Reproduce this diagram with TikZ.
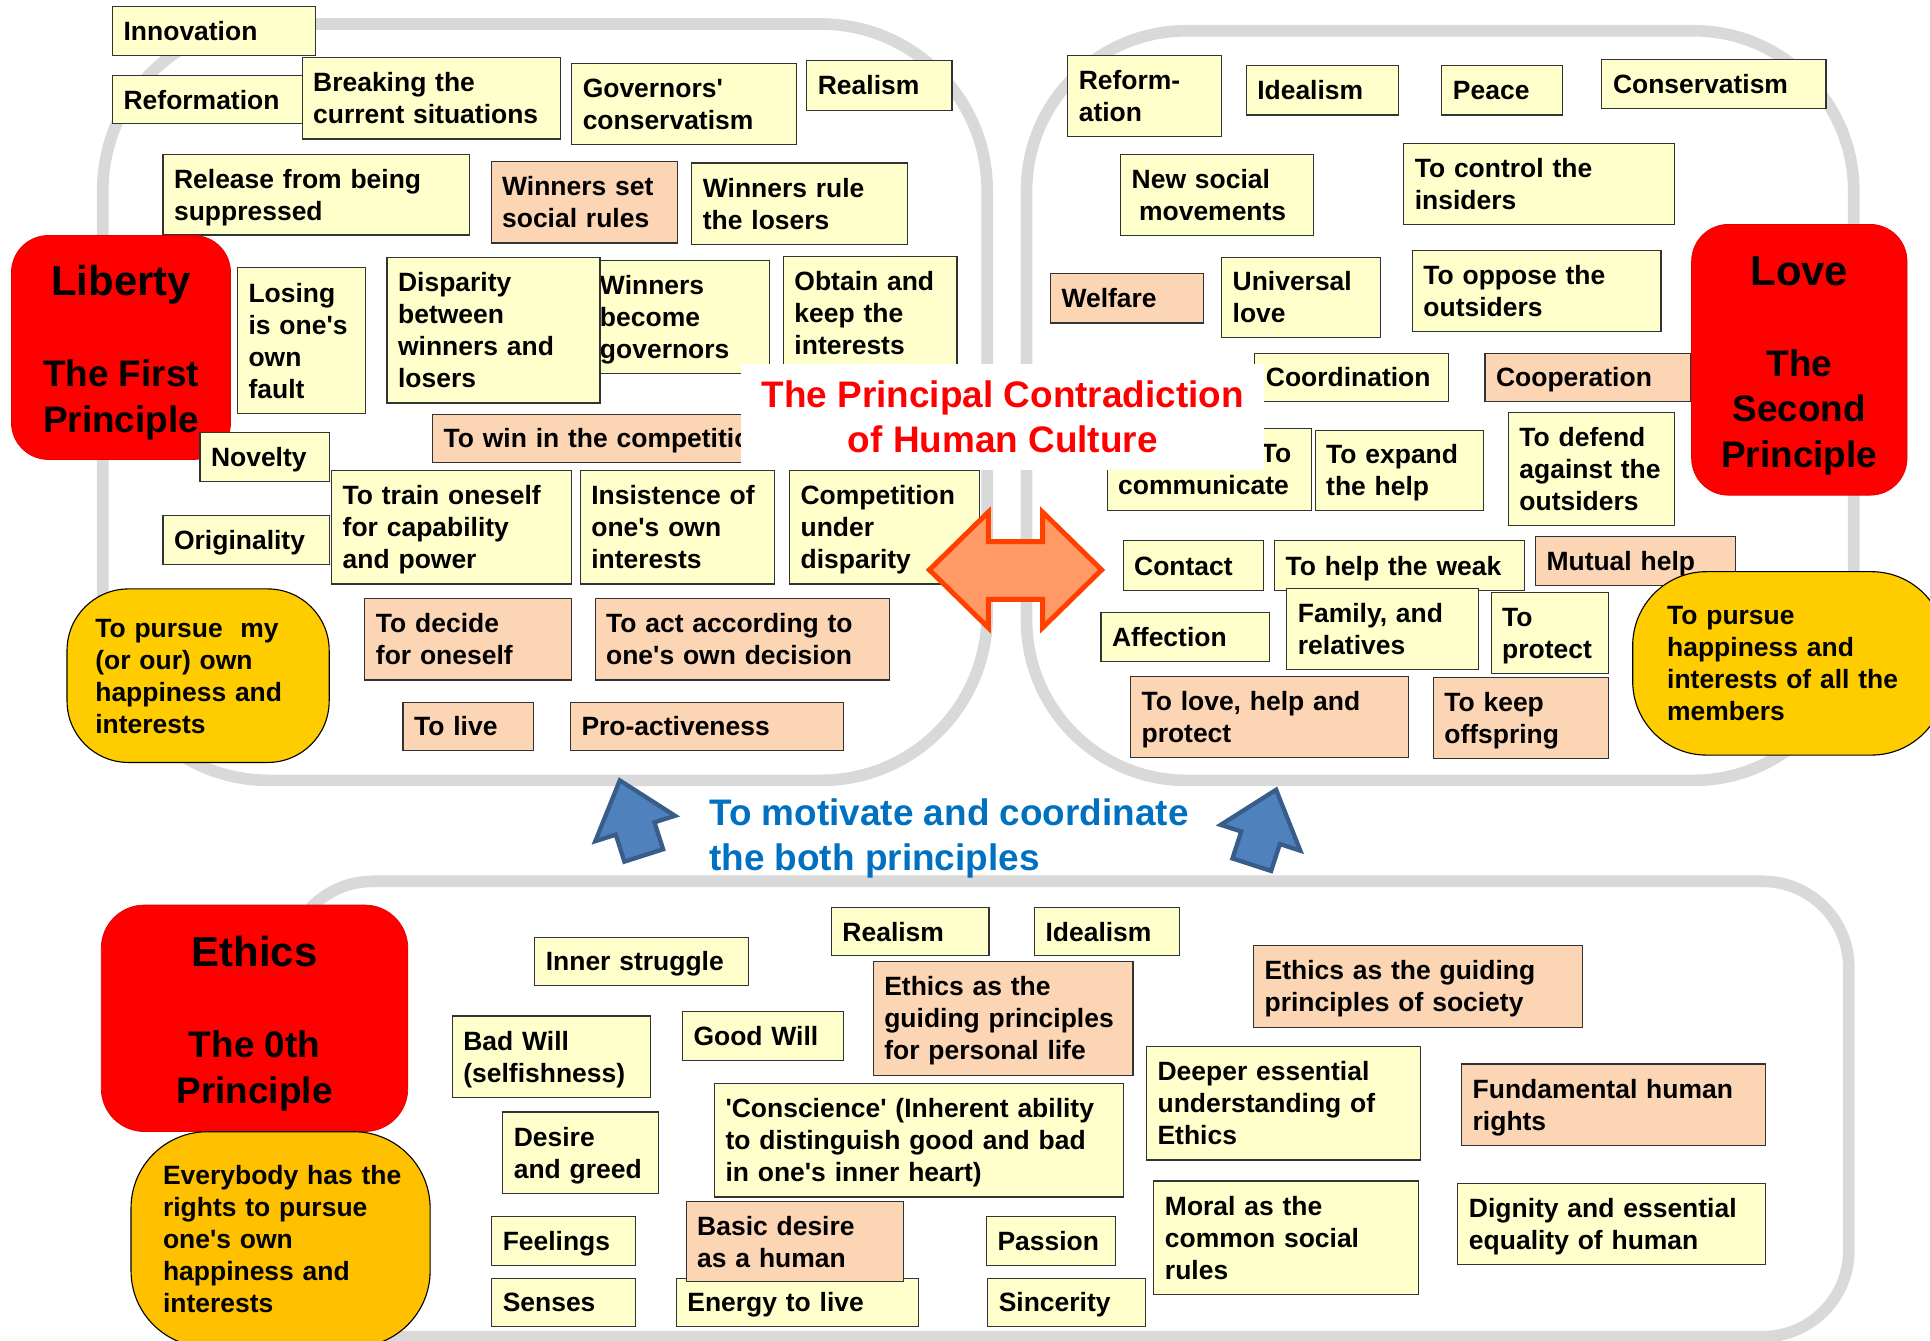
\documentclass[tikz,border=0pt]{standalone}
\usepackage{fontspec}
\setmainfont{Liberation Sans}[Ligatures=TeXOff]

\definecolor{boxyellow}{HTML}{FFFFCC}
\definecolor{boxpeach}{HTML}{FCD5B5}
\definecolor{ringgray}{HTML}{D9D9D9}
\definecolor{goldA}{HTML}{FFCC00}
\definecolor{goldB}{HTML}{FFC000}
\definecolor{arroworange}{HTML}{FF9966}
\definecolor{arrowedge}{HTML}{FF4000}
\definecolor{arrowblue}{HTML}{4F81BD}
\definecolor{arrowblueedge}{HTML}{385D8A}
\definecolor{motivblue}{HTML}{0070C0}

\newcommand{\boxstrut}{\rule[-5.3pt]{0pt}{26pt}}
\newcommand{\bigword}[1]{{\rule{0pt}{33pt}\fontsize{34}{37}\selectfont #1}}

\begin{document}
\begin{tikzpicture}[x=1pt,y=-1pt]

\tikzstyle{myring}=[
  draw=ringgray,
  line width=9.5pt]

\tikzstyle{mybox}=[
  rectangle,
  draw=black!80,
  line width=0.9pt,
  fill=boxyellow,
  anchor=north west,
  inner xsep=9pt,
  inner ysep=0pt,
  align=left,
  font=\bfseries\fontsize{21.5}{26}\selectfont,
  execute at begin node=\boxstrut,
  execute at end node=\boxstrut]

\tikzstyle{mypeach}=[mybox, fill=boxpeach]

\tikzstyle{myprinciple}=[
  rectangle,
  rounded corners=30pt,
  fill=red,
  draw=red!90!black,
  line width=0.6pt,
  anchor=north west,
  inner sep=0pt,
  align=center,
  font=\bfseries\fontsize{30}{37}\selectfont]

\tikzstyle{mygoal}=[
  rectangle,
  draw=black,
  line width=0.9pt,
  anchor=north west,
  inner ysep=0pt,
  align=left,
  font=\bfseries\fontsize{21.5}{26}\selectfont,
  execute at begin node=\boxstrut,
  execute at end node=\boxstrut]

\tikzstyle{mytwoway}=[fill=arroworange, draw=arrowedge, line width=4pt, line join=miter]

\tikzstyle{myup}=[fill=arrowblue, draw=arrowblueedge, line width=3.5pt, line join=miter]

\useasboundingbox (0,0) rectangle (1568,1089);
\clip (0,0) rectangle (1568,1089);

% define points
\path
  (825,463) coordinate(C)
  (523,695) coordinate(LA)
  (1017,702.5) coordinate(RA)
  ;

% rings
\draw[myring, rounded corners=135pt] (83.5,19.5) rectangle (802,634);
\draw[myring, rounded corners=130pt] (834,25) rectangle (1506,634);
\draw[myring, rounded corners=70pt] (233,716) rectangle (1502,1086);

% liberty side
\node[mybox, text width=147pt, minimum height=40pt] (innovation) at (91,5) {Innovation};
\node[mybox, text width=136pt, minimum height=39pt] (reformation) at (91,61) {Reformation};
\node[mybox, text width=192pt, minimum height=66pt] (breaking) at (245,46.5) {Breaking the\\current situations};
\node[mybox, text width=165pt, minimum height=65.5pt] (governors) at (464,51.5) {Governors'\\conservatism};
\node[mybox, text width=100pt, minimum height=40pt] (realismL) at (655,49) {Realism};
\node[mybox, text width=231pt, minimum height=65.5pt] (release) at (132,125) {Release from being\\suppressed};
\node[mypeach, text width=133.5pt, minimum height=66pt] (setrules) at (398.5,131) {Winners set\\social rules};
\node[mybox, text width=157pt, minimum height=66pt] (rulelosers) at (561.6,132) {Winners rule\\the losers};
\node[mybox, text width=129pt, minimum height=92pt] (becomegov) at (478,211) {Winners\\become\\governors};
\node[mybox, text width=155pt, minimum height=118pt] (disparity) at (314,209) {Disparity\\between\\winners and\\losers};
\node[mybox, text width=86pt, minimum height=118.5pt] (losing) at (192.5,217) {Losing\\is one's\\own\\fault};
\node[mybox, text width=123pt, minimum height=92pt] (obtain) at (636,208) {Obtain and\\keep the\\interests};
\node[mypeach, text width=352pt, minimum height=39pt] (towin) at (351,336) {To win in the competition};
\node[myprinciple, minimum width=178pt, minimum height=182pt] (liberty) at (9,191)
  {\bigword{Liberty}\\[37pt]The First\\Principle};
\node[mybox, text width=87pt, minimum height=40pt] (novelty) at (162,351) {Novelty};
\node[mybox, text width=117pt, minimum height=40pt] (originality) at (132,418) {Originality};
\node[mybox, text width=177pt, minimum height=92pt] (train) at (269,382) {To train oneself\\for capability\\and power};
\node[mybox, text width=140pt, minimum height=92pt] (insist) at (471,382) {Insistence of\\one's own\\interests};
\node[mybox, text width=136pt, minimum height=92pt] (compet) at (641,382) {Competition\\under\\disparity};
\node[mypeach, text width=150pt, minimum height=66pt] (decide) at (296,486) {To decide\\for oneself};
\node[mypeach, text width=221pt, minimum height=66pt] (actdec) at (483,486) {To act according to\\one's own decision};
\node[mypeach, text width=88pt, minimum height=39pt] (tolive) at (327,570) {To live};
\node[mypeach, text width=204pt, minimum height=39pt] (proact) at (463,570) {Pro-activeness};
\node[mygoal, fill=goldA, rounded corners=50pt, inner xsep=23pt, text width=167pt, minimum height=141pt] (pursuemy) at (54,478)
  {To pursue~ my\\(or our) own\\happiness and\\interests};

% love side
\node[mybox, text width=107pt, minimum height=65.5pt] (reformation2) at (867,45) {Reform-\\ation};
\node[mybox, text width=106pt, minimum height=40pt] (idealismR) at (1012,53) {Idealism};
\node[mybox, text width=80pt, minimum height=40pt] (peace) at (1171,53) {Peace};
\node[mybox, text width=164pt, minimum height=40pt] (conservatism) at (1301,48) {Conservatism};
\node[mybox, text width=139pt, minimum height=66pt] (newsocial) at (910,125) {New social\\\hspace*{6pt}movements};
\node[mybox, text width=202pt, minimum height=66pt] (control) at (1140,116) {To control the\\insiders};
\node[mypeach, text width=106pt, minimum height=40pt] (welfare) at (853,222) {Welfare};
\node[mybox, text width=111pt, minimum height=65.5pt] (universal) at (992,208.5) {Universal\\love};
\node[mybox, text width=184pt, minimum height=66pt] (oppose) at (1147,203) {To oppose the\\outsiders};
\node[mybox, text width=139pt, minimum height=39.5pt] (coordination) at (1019,286.5) {Coordination};
\node[mypeach, text width=149pt, minimum height=39.5pt] (cooperation) at (1206,286.5) {Cooperation};
\node[myprinciple, minimum width=175pt, minimum height=220pt] (love) at (1374,182)
  {\bigword{Love}\\[37pt]The\\Second\\Principle};
\node[mybox, text width=148pt, minimum height=66pt] (communicate) at (899,348) {\hspace*{116pt}To\\communicate};
\node[mybox, text width=119pt, minimum height=65pt] (expand) at (1068,349) {To expand\\the help};
\node[mybox, text width=117pt, minimum height=92pt] (defend) at (1225,334.5) {To defend\\against the\\outsiders};
\node[mybox, text width=96pt, minimum height=40pt] (contact) at (912,439) {Contact};
\node[mybox, text width=185pt, minimum height=40pt] (helpweak) at (1035,439) {To help the weak};
\node[mypeach, text width=144.5pt, minimum height=39.5pt] (mutual) at (1247,435.5) {Mutual help};
\node[mybox, text width=119pt, minimum height=40pt] (affection) at (894,497) {Affection};
\node[mybox, text width=138pt, minimum height=65.5pt] (family) at (1045,478) {Family, and\\relatives};
\node[mybox, text width=77pt, minimum height=66pt] (protect) at (1211,481) {To\\protect};
\node[mypeach, text width=208pt, minimum height=66pt] (lovehelp) at (918,549) {To love, help and\\protect};
\node[mypeach, text width=124pt, minimum height=66pt] (offspring) at (1164,550) {To keep\\offspring};
\node[mygoal, fill=goldA, rounded corners=60pt, inner xsep=28pt, text width=198pt, minimum height=149pt] (pursueall) at (1326,464)
  {To pursue\\happiness and\\interests of all the\\members};

% centre
\node[fill=white, anchor=north west, minimum width=425pt, minimum height=86pt, inner sep=0pt, align=center,
  text=red, font=\bfseries\fontsize{30}{37}\selectfont] (title) at (602,295.5)
  {The Principal Contradiction\\of Human Culture};

\draw[mytwoway, shift={(C)}]
  (-70,0) -- (-22,-47) -- (-22,-23) -- (22,-23) -- (22,-47) -- (70,0)
  -- (22,47) -- (22,24) -- (-22,24) -- (-22,47) -- cycle;

\draw[myup, shift={(LA)}, rotate=17.7]
  (-16.5,0) -- (-16.5,-23) -- (-34,-23) -- (0,-64) -- (34,-23) -- (16.5,-23) -- (16.5,0) -- cycle;
\draw[myup, shift={(RA)}, rotate=-18]
  (-16.5,0) -- (-16.5,-23) -- (-34,-23) -- (0,-64) -- (34,-23) -- (16.5,-23) -- (16.5,0) -- cycle;

\node[anchor=west, align=left, inner sep=0pt, text=motivblue,
  font=\bfseries\fontsize{30}{37}\selectfont] (motivate) at (576,681)
  {To motivate and coordinate\\the both principles};

% ethics side
\node[myprinciple, rounded corners=35pt, minimum width=249pt, minimum height=184pt] (ethics) at (82,735)
  {\bigword{Ethics}\\[37pt]The 0th\\Principle};
\node[mygoal, fill=goldB, rounded corners=62pt, inner xsep=26pt, text width=191pt, minimum height=175pt] (everybody) at (106,919)
  {\mbox{Everybody has the}\\rights to pursue\\one's own\\happiness and\\interests};
\node[mybox, text width=156pt, minimum height=39pt] (inner) at (434,761) {Inner struggle};
\node[mybox, text width=110pt, minimum height=39pt] (realismB) at (675,737) {Realism};
\node[mybox, text width=100pt, minimum height=39pt] (idealismB) at (840,737) {Idealism};
\node[mypeach, text width=193pt, minimum height=92pt] (ethpers) at (709,781) {Ethics as the\\guiding principles\\for personal life};
\node[mypeach, text width=249pt, minimum height=66pt] (ethsoc) at (1018,768) {Ethics as the guiding\\principles of society};
\node[mybox, text width=143pt, minimum height=66pt] (badwill) at (367,825) {Bad Will\\(selfishness)};
\node[mybox, text width=113pt, minimum height=39.5pt] (goodwill) at (554,821.5) {Good Will};
\node[mybox, text width=108.5pt, minimum height=66pt] (desire) at (408,903) {Desire\\and greed};
\node[mybox, text width=314pt, minimum height=92pt] (conscience) at (580,880)
  {'Conscience' (Inherent ability\\to distinguish good and bad\\in one's inner heart)};
\node[mybox, text width=204.5pt, minimum height=92pt] (deeper) at (931,850) {Deeper essential\\understanding of\\Ethics};
\node[mypeach, text width=229pt, minimum height=66pt] (fundamental) at (1187,864) {Fundamental human\\rights};
\node[mybox, text width=99pt, minimum height=40pt] (feelings) at (399,988) {Feelings};
\node[mybox, text width=179pt, minimum height=39pt] (energy) at (549,1038) {Energy to live};
\node[mypeach, text width=158.5pt, minimum height=65.5pt] (basic) at (557,975.5) {Basic desire\\as a human};
\node[mybox, text width=99pt, minimum height=39pt] (senses) at (399,1038) {Senses};
\node[mybox, text width=87pt, minimum height=40pt] (passion) at (801,988) {Passion};
\node[mybox, text width=110pt, minimum height=39pt] (sincerity) at (802,1038) {Sincerity};
\node[mybox, text width=197pt, minimum height=92pt] (moral) at (937,959) {Moral as the\\common social\\rules};
\node[mybox, text width=232pt, minimum height=66pt] (dignity) at (1184,961) {Dignity and essential\\equality of human};

\end{tikzpicture}
\end{document}
